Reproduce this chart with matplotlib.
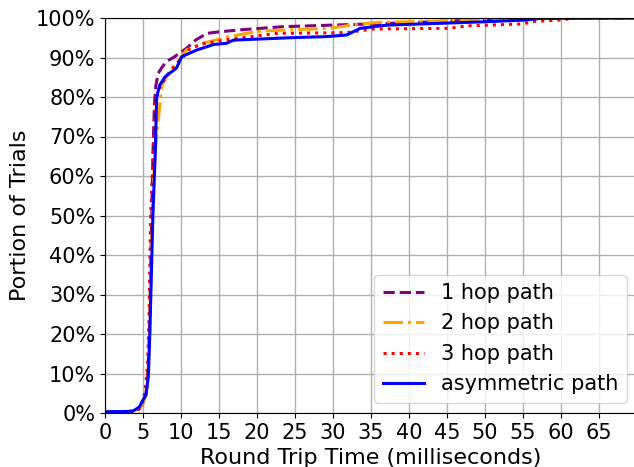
import matplotlib.pyplot as plt
from matplotlib.ticker import PercentFormatter

# CDF points (x in ms, y in percent)
hop1_x = [0, 3.5, 4.5, 5.0, 5.4, 5.7, 5.9, 6.1, 6.3, 6.5, 6.7, 7.0, 7.5, 8.1, 9.0,
          10.7, 12.0, 13.4, 15, 17.8, 23.4, 30, 35, 40, 49, 55, 60, 70]
hop1_y = [0.3, 0.4, 1.0, 2.5, 5, 12, 25, 45, 65, 78, 83, 86, 87.5, 89, 90,
          92.3, 94.5, 96.1, 96.5, 97, 97.8, 98.2, 98.5, 98.8, 99.5, 99.8, 100, 100]

hop2_x = [0, 3.5, 4.5, 5.0, 5.4, 5.7, 5.9, 6.1, 6.4, 6.7, 7.0, 7.5, 8.6, 9.4, 10.7,
          12.9, 16.4, 20, 23, 29.6, 33.1, 36, 45, 55, 70]
hop2_y = [0.3, 0.4, 1.0, 2.5, 4.5, 10, 22, 42, 60, 68, 74, 83, 86.8, 88.5, 91.9,
          93.6, 95.3, 96.6, 96.9, 97.4, 98.4, 98.9, 99.3, 100, 100]

hop3_x = [0, 3.5, 4.5, 5.0, 5.3, 5.6, 5.8, 6.0, 6.35, 6.6, 7.0, 8.0, 9.0, 10.1, 11.2,
          13, 15.6, 22.6, 31.8, 34.4, 35.3, 45.4, 47.6, 55, 56.3, 59.9, 62, 70]
hop3_y = [0.3, 0.4, 1.0, 3, 6, 12, 25, 50, 65.7, 78, 81.8, 85, 87.5, 89.8, 92.3,
          93.5, 94.4, 96.1, 96.3, 97.0, 97.2, 97.4, 98.0, 98.5, 99.1, 99.5, 100, 100]

asym_x = [0, 3.0, 3.7, 4.5, 5.0, 5.4, 5.7, 5.9, 6.3, 6.6, 6.8, 7.2, 7.9, 8.5, 9.4,
          10.1, 11, 12.1, 14.3, 16, 16.9, 24.3, 29.2, 31.8, 33.6, 37.1, 49.3, 55.5,
          57.2, 70]
asym_y = [0.3, 0.4, 0.5, 1.5, 3.3, 4.6, 9.2, 20.2, 50, 65, 80, 83, 85.1, 86, 87.3,
          90.2, 91, 91.9, 93.3, 93.6, 94.4, 95, 95.3, 95.7, 97.4, 98.2, 99.0, 99.5,
          99.9, 100]

x_ticks = list(range(0, 70, 5))
y_ticks = list(range(0, 101, 10))

fig = plt.figure(figsize=(6.34, 4.67), dpi=100)
ax = fig.add_axes([105 / 634, 54 / 467, 532 / 634, 395 / 467])

ax.plot(hop1_x, hop1_y, color="purple", linestyle="--", linewidth=2.2, label="1 hop path")
ax.plot(hop2_x, hop2_y, color="orange", linestyle="-.", linewidth=2.2, label="2 hop path")
ax.plot(hop3_x, hop3_y, color="red", linestyle=":", linewidth=2.2, label="3 hop path")
ax.plot(asym_x, asym_y, color="blue", linestyle="-", linewidth=2.2, label="asymmetric path")

ax.set_xlim(0, 70)
ax.set_ylim(0, 100)
ax.set_xticks(x_ticks)
ax.set_yticks(y_ticks)
ax.yaxis.set_major_formatter(PercentFormatter(decimals=0))
ax.tick_params(labelsize=15)
ax.grid(True, color="#b0b0b0", linewidth=1)
ax.set_axisbelow(True)

ax.set_xlabel("Round Trip Time (milliseconds)", fontsize=16)
ax.set_ylabel("Portion of Trials", fontsize=16)
ax.legend(loc="lower right", fontsize=15)

fig.savefig("out.png", dpi=100)
